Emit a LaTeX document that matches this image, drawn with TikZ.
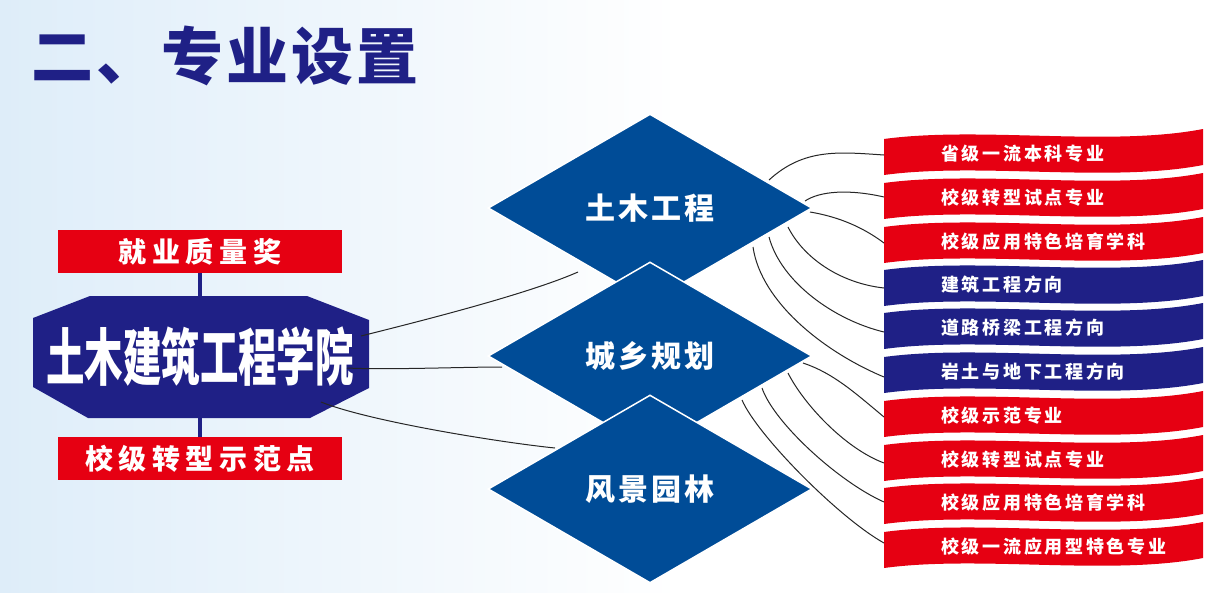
\documentclass[tikz,border=0pt]{standalone}
\usepackage{fontspec}
\usepackage{graphicx}
\newfontfamily\cjk{Noto Sans CJK SC}
\usetikzlibrary{shapes.geometric,positioning}
\definecolor{navy}{RGB}{31,32,134}
\definecolor{deepblue}{RGB}{0,76,151}
\definecolor{flagred}{RGB}{230,0,18}
\definecolor{skyblue}{RGB}{222,237,249}
\begin{document}
\begin{tikzpicture}
[x=1pt,y=-1pt,
  titletext/.style={inner sep=0pt,text=navy,font=\cjk\bfseries\fontsize{62}{62}\selectfont\addfontfeatures{LetterSpace=5}},%
  redbox/.style={rectangle,fill=flagred,minimum width=284pt,minimum height=43pt,inner sep=0pt,text=white,font=\cjk\bfseries\fontsize{28}{28}\selectfont\addfontfeatures{LetterSpace=20}},%
  collegebox/.style={rectangle,minimum width=336pt,minimum height=122pt,inner sep=0pt,text=white,font=\cjk\bfseries\fontsize{62}{62}\selectfont},%
  diamondbox/.style={shape=diamond,fill=deepblue,draw=white,line width=1.5pt,minimum width=324pt,minimum height=188pt,inner sep=0pt,text=white,font=\cjk\bfseries\fontsize{30}{30}\selectfont\addfontfeatures{LetterSpace=10}},%
  flagtext/.style={inner sep=0pt,anchor=west,text=white,font=\cjk\bfseries\fontsize{18}{18}\selectfont\addfontfeatures{LetterSpace=15}},%
  navyline/.style={-,draw=navy,line width=3.5pt},%
  linkdecorate/.style={-,draw=black!85,line width=1pt}]
\useasboundingbox (0,0) rectangle (1228,592);
%% background
\fill[white] (0,0) rectangle (1228,592);
\shade[left color=skyblue,right color=white] (0,0) rectangle (680,592);
%% title
\node (title) [titletext,anchor=west] at (31,56) {二、专业设置};
%% college and its two awards
\fill[navy] (90,296) -- (307,296) -- (369,320) -- (369,388) -- (310,418) -- (88,418) -- (33,387) -- (33,318) -- cycle;
\node (college) [collegebox] at (200,357) {\scalebox{0.62}[1]{土木建筑工程学院}};
\node (award) [redbox] at (200,251.5) {就业质量奖};
\node (demo) [redbox] at (200,458.5) {校级转型示范点};
\draw[navyline] (award.south) -- (college.north);
\draw[navyline] (college.south) -- (demo.north);
%% flags
\foreach \i/\t/\e/\col/\txt in {1/139/155/flagred/省级一流本科专业, 2/183/197/flagred/校级转型试点专业,
  3/227/243/flagred/校级应用特色培育学科, 4/270/288/navy/建筑工程方向, 5/313/332/navy/道路桥梁工程方向,
  6/357/377/navy/岩土与地下工程方向, 7/401/417/flagred/校级示范专业, 8/445/463/flagred/校级转型试点专业,
  9/488/502/flagred/校级应用特色培育学科, 10/532/543/flagred/校级一流应用型特色专业} {
  \fill[\col] (884,\t) .. controls (980,\t-13) and (1110,\t+8) .. (1203,\t-10)
    -- (1203,\t+26) .. controls (1110,\t+44) and (980,\t+23) .. (884,\t+36) -- cycle;
  \node (flag\i) [flagtext] at (941,\t+14.5) {\txt};
  \coordinate (f\i) at (884,\e);
}
%% links from the college
\draw[linkdecorate] ([shift={(161,-21)}]college.center) .. controls +(60,-15) and +(-50,22) .. (578,272) coordinate (c1);
\draw[linkdecorate] ([shift={(147,11)}]college.center) .. controls +(40,2) and +(-40,0) .. (502,367) coordinate (c2);
\draw[linkdecorate] ([shift={(121,45)}]college.center) .. controls +(50,20) and +(-50,-5) .. (555,448) coordinate (c3);
%% majors
\node (civil) [diamondbox] at (650,208) {土木工程};
\node (urban) [diamondbox] at (650,356) {城乡规划};
\node (garden) [diamondbox] at (650,489) {风景园林};
%% links to the flags
\foreach \from/\sx/\sy/\flag/\ax/\ay/\bx/\by in {civil/119/-28/1/35/-32/-45/-3, civil/155/-7/2/15/-10/-35/-8,
  civil/160/4/3/30/5/-20/-15, civil/138/19/4/15/30/-45/-5, civil/119/29/5/12/45/-50/-12,
  civil/103/39/6/8/55/-60/-25, urban/153/7/7/30/10/-30/-25, urban/138/17/8/15/30/-40/-15,
  urban/112/32/9/12/35/-45/-20, urban/92/44/10/15/35/-45/-25} {
  \draw[linkdecorate] ([shift={(\sx,\sy)}]\from.center) .. controls +(\ax,\ay) and +(\bx,\by) .. (f\flag);
}
\end{tikzpicture}
\end{document}
